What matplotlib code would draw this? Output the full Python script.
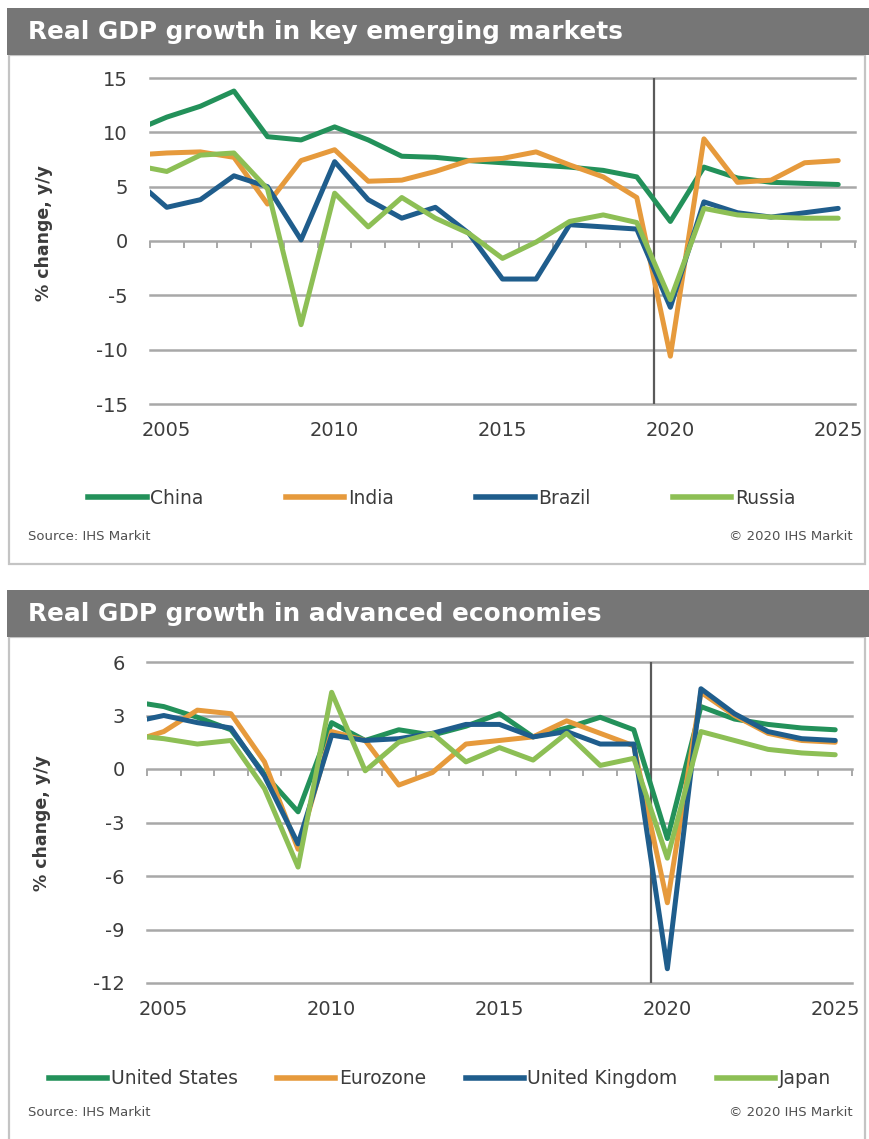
import matplotlib
matplotlib.use("Agg")
import matplotlib.pyplot as plt
from matplotlib.patches import Rectangle
from matplotlib.lines import Line2D

plt.rcParams["axes.unicode_minus"] = False

# ---- data -------------------------------------------------------------
years = list(range(2004, 2026))

# Real GDP growth, % y/y: key emerging markets
china = [10.1, 11.4, 12.4, 13.8, 9.6, 9.3, 10.5, 9.3, 7.8, 7.7, 7.4, 7.2, 7.0, 6.8, 6.5, 5.9, 1.8, 6.8, 5.8, 5.4, 5.3, 5.2]
india = [7.9, 8.1, 8.2, 7.7, 3.4, 7.4, 8.4, 5.5, 5.6, 6.4, 7.4, 7.6, 8.2, 7.0, 5.9, 4.0, -10.6, 9.4, 5.4, 5.6, 7.2, 7.4]
brazil = [5.8, 3.1, 3.8, 6.0, 5.0, 0.1, 7.3, 3.8, 2.1, 3.1, 0.7, -3.5, -3.5, 1.5, 1.3, 1.1, -6.1, 3.6, 2.6, 2.2, 2.6, 3.0]
russia = [7.0, 6.4, 7.9, 8.1, 4.8, -7.7, 4.4, 1.3, 4.0, 2.1, 0.7, -1.6, -0.1, 1.8, 2.4, 1.7, -5.4, 3.0, 2.4, 2.2, 2.1, 2.1]

# Real GDP growth, % y/y: advanced economies
united_states = [3.8, 3.5, 2.9, 2.2, -0.3, -2.4, 2.6, 1.6, 2.2, 1.9, 2.4, 3.1, 1.8, 2.3, 2.9, 2.2, -3.9, 3.5, 2.8, 2.5, 2.3, 2.2]
eurozone = [1.5, 2.1, 3.3, 3.1, 0.4, -4.5, 2.1, 1.6, -0.9, -0.2, 1.4, 1.6, 1.8, 2.7, 2.0, 1.3, -7.5, 4.3, 3.0, 2.0, 1.6, 1.5]
united_kingdom = [2.6, 3.0, 2.6, 2.3, -0.4, -4.2, 1.9, 1.6, 1.7, 2.0, 2.5, 2.5, 1.8, 2.1, 1.4, 1.4, -11.2, 4.5, 3.1, 2.1, 1.7, 1.6]
japan = [1.9, 1.7, 1.4, 1.6, -1.1, -5.5, 4.3, -0.1, 1.5, 2.0, 0.4, 1.2, 0.5, 2.0, 0.2, 0.6, -5.0, 2.1, 1.6, 1.1, 0.9, 0.8]

emerging_names = ["China", "India", "Brazil", "Russia"]
advanced_names = ["United States", "Eurozone", "United Kingdom", "Japan"]

year_ticks = [2005, 2010, 2015, 2020, 2025]
emerging_yticks = [-15, -10, -5, 0, 5, 10, 15]
advanced_yticks = [-12, -9, -6, -3, 0, 3, 6]

# ---- styling ----------------------------------------------------------
DARK_GREEN = "#23915a"
ORANGE = "#e69a3c"
BLUE = "#1f5d8c"
LIGHT_GREEN = "#8dbf55"
PALETTE = [DARK_GREEN, ORANGE, BLUE, LIGHT_GREEN]
GRID = "#a8a8a8"
TEXT = "#3c3c3c"
BAR = "#767676"
BORDER = "#c4c4c4"

W, H = 870, 1139
fig = plt.figure(figsize=(W / 100, H / 100), dpi=100)
fig.patch.set_facecolor("white")


def box(x0, y0, x1, y1):
    """Pixel box (top-left origin) -> figure-fraction rect."""
    return [x0 / W, 1 - y1 / H, (x1 - x0) / W, (y1 - y0) / H]


def fx(x):
    return x / W


def fy(y):
    return 1 - y / H


def panel_frame(top, bottom, title):
    bar_h = 47
    # light border around the chart body
    fig.add_artist(Rectangle((fx(9), fy(bottom)), fx(865) - fx(9),
                             fy(top + bar_h) - fy(bottom),
                             transform=fig.transFigure, facecolor="none",
                             edgecolor=BORDER, lw=1.6, zorder=0))
    # grey title bar
    fig.add_artist(Rectangle((fx(7), fy(top + bar_h)), 1 - fx(7),
                             fy(top) - fy(top + bar_h),
                             transform=fig.transFigure, facecolor=BAR,
                             edgecolor="none", zorder=1))
    fig.text(fx(28), fy(top + 24), title, color="white", fontsize=17.8,
             fontweight="bold", va="center", ha="left", zorder=2)


def draw_chart(rect, series, names, yticks, split_year):
    ax = fig.add_axes(rect)
    lo, hi = yticks[0], yticks[-1]
    for vals, name, col in zip(series, names, PALETTE):
        ax.plot(years, vals, color=col, lw=3.6, label=name,
                solid_joinstyle="round", solid_capstyle="round", zorder=3)
    ax.set_xlim(2004.5, 2025.5)
    ax.set_ylim(lo, hi)
    ax.set_yticks(yticks)
    ax.set_xticks(year_ticks)
    ax.grid(axis="y", color=GRID, lw=1.8)
    ax.set_axisbelow(True)
    for gl in ax.get_ygridlines():
        gl.set_clip_on(False)
    for s in ax.spines.values():
        s.set_visible(False)
    ax.tick_params(axis="y", length=0, pad=16, labelsize=14, labelcolor=TEXT)
    ax.tick_params(axis="x", length=0, pad=12, labelsize=14, labelcolor=TEXT)
    ax.axvline(split_year, color="#5a5a5a", lw=1.6, zorder=2)

    # small year-boundary ticks hanging from the zero line
    zero_frac = (0 - lo) / (hi - lo)
    sec = ax.secondary_xaxis(zero_frac)
    sec.set_alignment("bottom")
    sec.set_xticks([y + 0.5 for y in range(2004, 2026)])
    sec.tick_params(direction="out", length=5, width=1.4, color=GRID,
                    labelbottom=False, labeltop=False)
    sec.spines["bottom"].set_visible(False)
    sec.spines["top"].set_visible(False)
    return ax


def legend_and_source(ax, cx, y_leg, y_src, spacing):
    handles = [Line2D([], [], color=c, lw=4) for c in PALETTE]
    labels = [l.get_label() for l in ax.get_lines()[:4]]
    fig.legend(handles, labels, loc="center", bbox_to_anchor=(fx(cx), fy(y_leg)),
               ncol=4, frameon=False, fontsize=13.5, handlelength=3.1,
               handletextpad=0.2, columnspacing=spacing, labelcolor=TEXT)
    fig.text(fx(28), fy(y_src), "Source: IHS Markit", fontsize=9.5,
             color="#505050", va="center", ha="left")
    fig.text(fx(853), fy(y_src), "© 2020 IHS Markit", fontsize=9.5,
             color="#505050", va="center", ha="right")


# ---- top panel: emerging markets ----------------------------------------
panel_frame(8, 564, "Real GDP growth in key emerging markets")
ax1 = draw_chart(box(150, 78, 855, 404), [china, india, brazil, russia],
                 emerging_names, emerging_yticks, 2019.5)
fig.text(fx(44), fy(233), "% change, y/y", rotation=90, fontsize=12.5,
         fontweight="bold", color=TEXT, ha="center", va="center")
legend_and_source(ax1, 442, 498, 537, 4.4)

# ---- bottom panel: advanced economies -----------------------------------
panel_frame(590, 1160, "Real GDP growth in advanced economies")
ax2 = draw_chart(box(147, 662, 852, 983),
                 [united_states, eurozone, united_kingdom, japan],
                 advanced_names, advanced_yticks, 2019.5)
fig.text(fx(42), fy(823), "% change, y/y", rotation=90, fontsize=12.5,
         fontweight="bold", color=TEXT, ha="center", va="center")
legend_and_source(ax2, 440, 1079, 1113, 2.1)

fig.savefig("out.png", dpi=100, facecolor="white")
